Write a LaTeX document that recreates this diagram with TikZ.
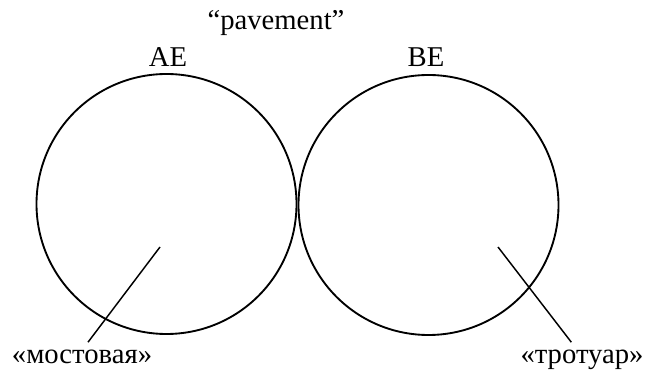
\documentclass[tikz,border=0pt]{standalone}
\usepackage{fontspec}
\setmainfont{Liberation Serif}
\usetikzlibrary{positioning}

\begin{document}
\begin{tikzpicture}[
  x=0.75pt, y=-0.75pt,
  ring/.style={circle, draw, line width=1.4pt, minimum size=195pt, inner sep=0pt},
  word/.style={font=\fontsize{21.5}{24}\selectfont, inner sep=0pt, anchor=base},
  pointer/.style={draw, line width=1.1pt},
]
  \useasboundingbox (0,0) rectangle (647,370);
  \node[ring] (ae) at (166.5,204) {};
  \node[ring] (be) at (428.5,205) {};
  \node[word] (pave) at (276,30) {“pavement”};
  \node[word] (aename) at (168,67) {AE};
  \node[word] (bename) at (426,67) {BE};
  \node[word] (most) at (82,364) {«мостовая»};
  \node[word] (trot) at (582,364) {«тротуар»};
  \coordinate (mostip) at (160,247);
  \coordinate (trotip) at (498,247);
  \draw[pointer] ([shift={(4.5pt,6pt)}]most.north) -- (mostip);
  \draw[pointer] ([shift={(-8pt,6pt)}]trot.north) -- (trotip);
\end{tikzpicture}
\end{document}
